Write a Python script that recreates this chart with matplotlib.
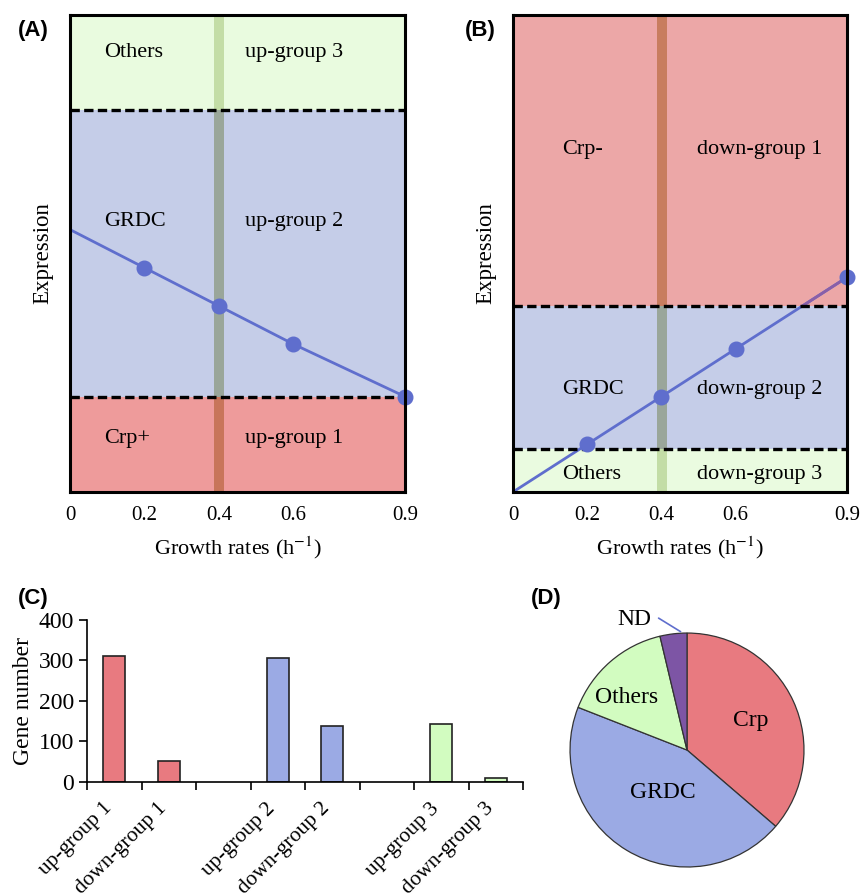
import matplotlib
matplotlib.use("Agg")
import matplotlib.pyplot as plt
from matplotlib.patches import Rectangle
import matplotlib.transforms as mtransforms
import numpy as np

plt.rcParams['font.family'] = 'Liberation Serif'
plt.rcParams['mathtext.fontset'] = 'stix'

# ---- data ----
growth = [0, 0.2, 0.4, 0.6, 0.9]
growth_ticks = ['0', '0.2', '0.4', '0.6', '0.9']
expr_up = [0.55, 0.47, 0.39, 0.31, 0.20]
expr_down = [0.0, 0.10, 0.20, 0.30, 0.45]

bounds_a = [0, 0.2, 0.8, 1.0]
left_a = ['Crp+', 'GRDC', 'Others']
right_a = ['up-group 1', 'up-group 2', 'up-group 3']
label_y_a = [0.113, 0.566, 0.922]

bounds_b = [0, 0.09, 0.39, 1.0]
left_b = ['Others', 'GRDC', 'Crp-']
right_b = ['down-group 3', 'down-group 2', 'down-group 1']
label_y_b = [0.036, 0.214, 0.717]

bar_cats = ['up-group 1', 'down-group 1', '', 'up-group 2', 'down-group 2', '',
            'up-group 3', 'down-group 3']
gene_counts = [310, 52, None, 307, 138, None, 143, 10]

pie_labels = ['Crp', 'GRDC', 'Others', 'ND']
pie_values = [362, 445, 153, 37]
# label placement (radius, angle in degrees)
pie_label_r = [0.6, 0.42, 0.69, 1.2]
pie_label_ang = [25, 241, 139, 112]

# ---- colours ----
red = '#E87A80'
blue = '#9BAAE4'
green = '#D2FCC0'
purple = '#7D55A5'
line_blue = '#5F6ECD'

fills_a = ['#EE9B9B', '#C5CDE8', '#E9FBDF']
band_a = ['#C8755A', '#9AA69A', '#C3DDA6']
fills_b = ['#EAFBE0', '#C5CDE8', '#ECA7A7']
band_b = ['#C3DDA6', '#9AA69A', '#C87D5F']

fig = plt.figure(figsize=(8.6, 8.94), dpi=100)


def expression_panel(ax, bounds, fills, bands, left, right, label_y, yvals, label_x):
    for i in range(3):
        ax.axhspan(bounds[i], bounds[i + 1], color=fills[i], lw=0, zorder=0)
        ax.fill_between([0.387, 0.415], bounds[i], bounds[i + 1], color=bands[i], lw=0, zorder=1)
        ax.text(label_x[0], label_y[i], left[i], fontsize=16, va='center', zorder=6)
        ax.text(label_x[1], label_y[i], right[i], fontsize=16, va='center', zorder=6)
    for b in bounds[1:-1]:
        ax.axhline(b, color='black', lw=2.4, ls=(0, (2.8, 1.3)), zorder=4)
    ax.plot(growth, yvals, color=line_blue, lw=2, zorder=2)
    ax.plot(growth[1:], yvals[1:], 'o', ms=10.5, color=line_blue, zorder=5, clip_on=False)
    ax.set_xlim(0, 0.9)
    ax.set_ylim(0, 1)
    ax.set_xticks(growth)
    ax.set_xticklabels(growth_ticks)
    ax.set_yticks([])
    ax.tick_params(length=0, pad=10, labelsize=15)
    ax.set_xlabel('Growth rates (h$^{-1}$)', fontsize=16, labelpad=7)
    ax.set_ylabel('Expression', fontsize=16.5, labelpad=12)
    for s in ax.spines.values():
        s.set_linewidth(2.2)
        s.set_zorder(7)


# (A)
ax_a = fig.add_axes([0.0814, 0.4497, 0.3895, 0.5336])
expression_panel(ax_a, bounds_a, fills_a, band_a, left_a, right_a, label_y_a, expr_up, [0.091, 0.47])

# (B)
ax_b = fig.add_axes([0.5965, 0.4497, 0.3884, 0.5336])
expression_panel(ax_b, bounds_b, fills_b, band_b, left_b, right_b, label_y_b, expr_down, [0.132, 0.496])
# line looks purple where it runs through the red zone
top_zone = Rectangle((0, bounds_b[2]), 0.9, bounds_b[3] - bounds_b[2], transform=ax_b.transData)
tinted, = ax_b.plot(growth, expr_down, color='#8A5FA8', lw=2, zorder=3)
tinted.set_clip_path(top_zone)

# (C)
ax_c = fig.add_axes([0.1012, 0.1253, 0.507, 0.1812])
bar_colors = [red, red, None, blue, blue, None, green, green]
for i, (v, c) in enumerate(zip(gene_counts, bar_colors)):
    if v is None:
        continue
    ax_c.bar(i, v, width=0.4, color=c, edgecolor='#222222', linewidth=1.2)
ax_c.set_xlim(-0.5, len(bar_cats) - 0.5)
ax_c.set_ylim(0, 400)
ax_c.set_yticks([0, 100, 200, 300, 400])
ax_c.set_xticks(np.arange(len(bar_cats) + 1) - 0.5)
ax_c.set_xticklabels([])
# category names, rotated like the spreadsheet labels
shift = mtransforms.ScaledTranslation(-0.12, -0.17, fig.dpi_scale_trans)
for i, name in enumerate(bar_cats):
    ax_c.text(i, 0, name, transform=ax_c.get_xaxis_transform() + shift, fontsize=15.5,
              rotation=45, ha='right', va='top', rotation_mode='anchor', clip_on=False)
ax_c.tick_params(axis='x', length=6, width=1.2)
ax_c.tick_params(axis='y', length=6, width=1.2, labelsize=17)
ax_c.spines['top'].set_visible(False)
ax_c.spines['right'].set_visible(False)
ax_c.spines['left'].set_linewidth(1.2)
ax_c.spines['bottom'].set_linewidth(1.2)
ax_c.set_ylabel('Gene number', fontsize=17, labelpad=3)

# (D)
ax_d = fig.add_axes([0.6628, 0.0302, 0.2721, 0.2617])
wedges, texts = ax_d.pie(pie_values, labels=pie_labels, colors=[red, blue, green, purple],
                         startangle=90, counterclock=False,
                         wedgeprops=dict(edgecolor='#333333', linewidth=0.9),
                         textprops=dict(fontsize=17))
for t, r, a in zip(texts, pie_label_r, pie_label_ang):
    a = np.deg2rad(a)
    t.set_position((r * np.cos(a), r * np.sin(a)))
    t.set_ha('center')
    t.set_va('center')
nd_ang = np.deg2rad(wedges[3].theta1 + 2)
ax_d.annotate('', xy=(np.cos(nd_ang), np.sin(nd_ang)),
              xytext=(np.cos(np.deg2rad(103)) * 1.17, np.sin(np.deg2rad(103)) * 1.17),
              arrowprops=dict(arrowstyle='-', color=line_blue, lw=1.2))
ax_d.set_xlim(-1, 1)
ax_d.set_ylim(-1, 1)

# panel letters
for x, y, s in [(0.021, 0.966, '(A)'), (0.54, 0.966, '(B)'), (0.021, 0.331, '(C)'), (0.617, 0.331, '(D)')]:
    fig.text(x, y, s, fontsize=16, fontweight='bold', family='Liberation Sans', va='center')

fig.savefig('out.png', dpi=100)
